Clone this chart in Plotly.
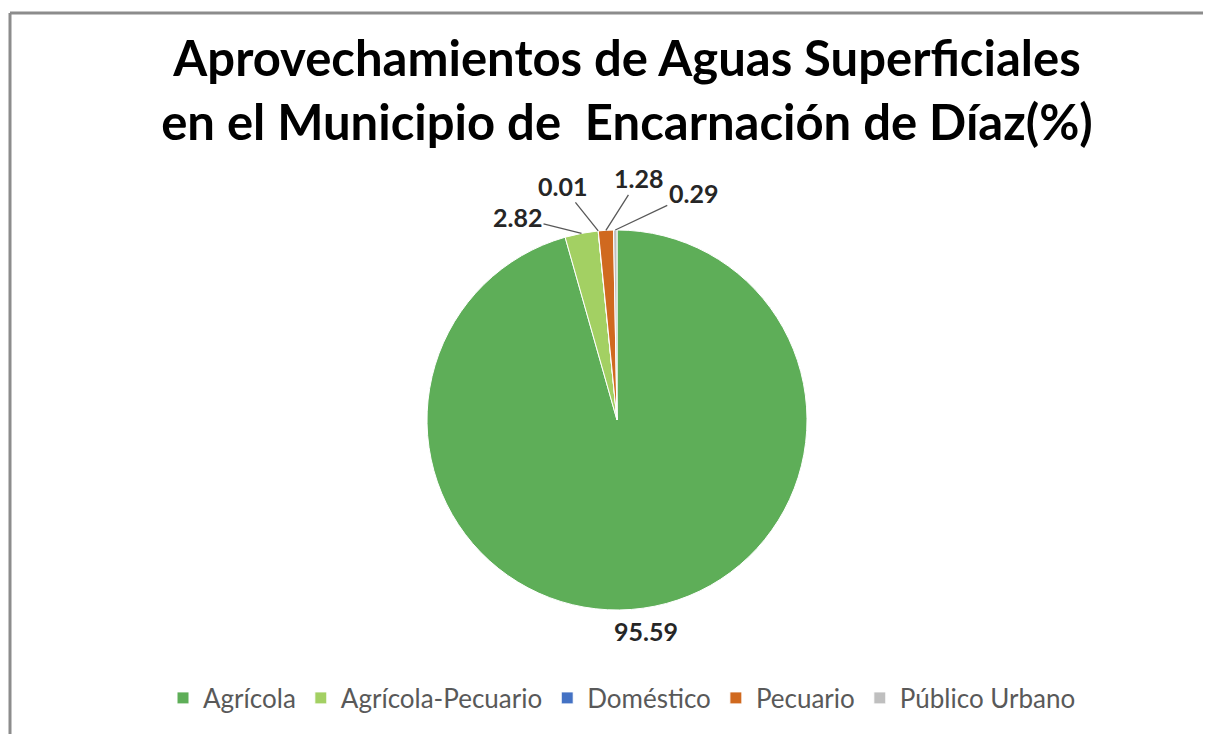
import math
import plotly.graph_objects as go

categories = ["Agrícola", "Agrícola-Pecuario", "Doméstico", "Pecuario", "Público Urbano"]
values = [95.59, 2.82, 0.01, 1.28, 0.29]
value_labels = ["95.59", "2.82", "0.01", "1.28", "0.29"]
colors = ["#5EAE58", "#A3D063", "#4472C4", "#D0691F", "#BFBFBF"]

# page offset (browser body margin) compensation
OFF = 8
W, H = 1211 - OFF, 734 - OFF
cx, cy, r = 617 - OFF, 420 - OFF, 190

# label offsets (pixels, from slice edge point to label centre)
label_offsets = [(None, None), (-64, -16), (-36, -45), (33, -52), (78, -37)]

fig = go.Figure(go.Pie(
    labels=categories,
    values=values,
    textinfo="none",
    sort=False,
    direction="clockwise",
    rotation=0,
    marker=dict(colors=colors, line=dict(color="white", width=1)),
    domain=dict(x=[(cx - r) / W, (cx + r) / W], y=[(H - cy - r) / H, (H - cy + r) / H]),
    showlegend=True,
    hoverinfo="label+value",
))

total = sum(values)
annotations = []
cum = 0.0
lab_font = dict(family="Lato", size=25, color="#262626")
for i, v in enumerate(values):
    mid = (cum + v / 2) / total * 2 * math.pi
    cum += v
    sx, sy = math.sin(mid), math.cos(mid)
    if label_offsets[i][0] is None:
        rr = r + 23
        annotations.append(dict(
            x=(cx + rr * sx) / W, y=(H - cy + rr * sy) / H, xref="paper", yref="paper",
            xanchor="center", yanchor="middle",
            text=f"<b>{value_labels[i]}</b>", showarrow=False, font=lab_font,
        ))
    else:
        ax, ay = label_offsets[i]
        annotations.append(dict(
            x=(cx + r * sx) / W, y=(H - cy + r * sy) / H, xref="paper", yref="paper",
            text=f"<b>{value_labels[i]}</b>", showarrow=True, arrowhead=0,
            arrowwidth=1.3, arrowcolor="#595959", ax=ax, ay=ay, standoff=0,
            font=lab_font,
        ))

fig.update_layout(
    width=W, height=H,
    margin=dict(l=0, r=0, t=0, b=0),
    paper_bgcolor="white",
    title=dict(
        text="<b>Aprovechamientos de Aguas Superficiales<br>en el Municipio de  Encarnación de Díaz(%)</b>",
        x=(627 - OFF) / W, xanchor="center", y=1 - (76 - OFF) / H, yanchor="middle",
        font=dict(family="Lato", size=49, color="#000000"),
    ),
    legend=dict(
        orientation="h", x=(622 - OFF) / W, xanchor="center", y=1 - (698 - OFF) / H, yanchor="middle",
        font=dict(family="Lato", size=26, color="#595959"),
        traceorder="normal",
    ),
    annotations=annotations,
    shapes=[
        dict(type="line", xref="paper", yref="paper", x0=(10 - OFF) / W, x1=1, y0=1 - (13 - OFF) / H,
             y1=1 - (13 - OFF) / H, line=dict(color="#8C8C8C", width=3)),
        dict(type="line", xref="paper", yref="paper", x0=(10 - OFF) / W, x1=(10 - OFF) / W, y0=0,
             y1=1 - (13 - OFF) / H, line=dict(color="#8C8C8C", width=3)),
    ],
)

fig.write_html("out.html")
